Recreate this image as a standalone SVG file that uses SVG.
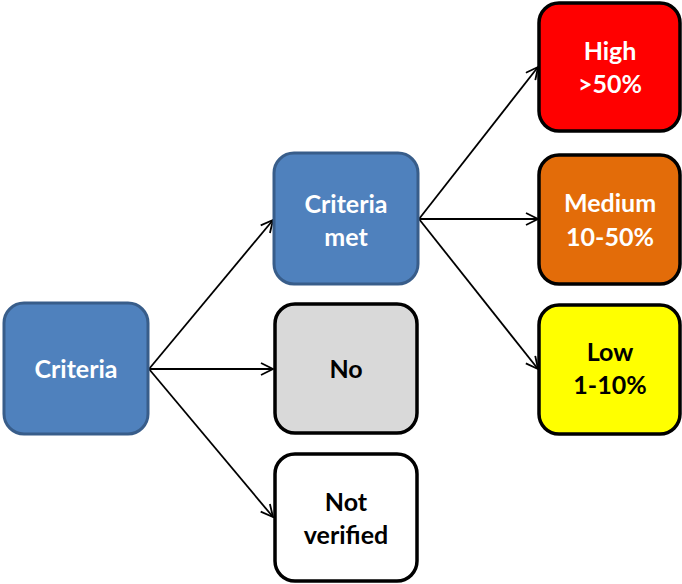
<svg xmlns="http://www.w3.org/2000/svg" width="682" height="584" viewBox="0 0 682 584">
<defs>
<marker id="arr" viewBox="0 0 14 14" refX="13" refY="7" markerWidth="14" markerHeight="14" markerUnits="userSpaceOnUse" orient="auto">
<path d="M1,1 L13,7 L1,13" fill="none" stroke="#000" stroke-width="1.8"/>
</marker>
<style>
.blue{fill:#4F81BD;stroke:#385D8A;stroke-width:3}
.blk{stroke:#000;stroke-width:3.5}
text{font-family:Lato,"Open Sans","Liberation Sans",sans-serif;font-weight:bold;font-size:25px;text-anchor:middle;dominant-baseline:central}
.w{fill:#fff}
.k{fill:#000}
.c{stroke:#000;stroke-width:1.8;fill:none;marker-end:url(#arr)}
</style>
</defs>
<rect width="682" height="584" fill="#fff"/>
<g id="connectors">
<line class="c" x1="149" y1="369" x2="273" y2="220"/>
<line class="c" x1="149" y1="369" x2="273" y2="369"/>
<line class="c" x1="149" y1="369" x2="273" y2="517"/>
<line class="c" x1="419" y1="219" x2="538" y2="67"/>
<line class="c" x1="419" y1="219" x2="538" y2="219"/>
<line class="c" x1="419" y1="219" x2="538" y2="369"/>
</g>
<g id="criteria">
<rect class="blue" x="4" y="303" width="144" height="131" rx="20"/>
<text class="w" x="76" y="368">Criteria</text>
</g>
<g id="criteria-met">
<rect class="blue" x="274" y="153" width="144" height="131" rx="20"/>
<text class="w" x="346" y="203">Criteria</text>
<text class="w" x="346" y="236">met</text>
</g>
<g id="no">
<rect class="blk" fill="#D9D9D9" x="275" y="304" width="142" height="129" rx="20"/>
<text class="k" x="346" y="368">No</text>
</g>
<g id="not-verified">
<rect class="blk" fill="#fff" x="275" y="454" width="142" height="127" rx="20"/>
<text class="k" x="346" y="501">Not</text>
<text class="k" x="346" y="534">verified</text>
</g>
<g id="high">
<rect class="blk" fill="#FF0000" x="539" y="3" width="141" height="128" rx="20"/>
<text class="w" x="610" y="50">High</text>
<text class="w" x="610" y="83">&gt;50%</text>
</g>
<g id="medium">
<rect class="blk" fill="#E36C09" x="539" y="155" width="141" height="129" rx="20"/>
<text class="w" x="610" y="202">Medium</text>
<text class="w" x="610" y="236">10-50%</text>
</g>
<g id="low">
<rect class="blk" fill="#FFFF00" x="539" y="305" width="141" height="129" rx="20"/>
<text class="k" x="610" y="351">Low</text>
<text class="k" x="610" y="384">1-10%</text>
</g>
</svg>
